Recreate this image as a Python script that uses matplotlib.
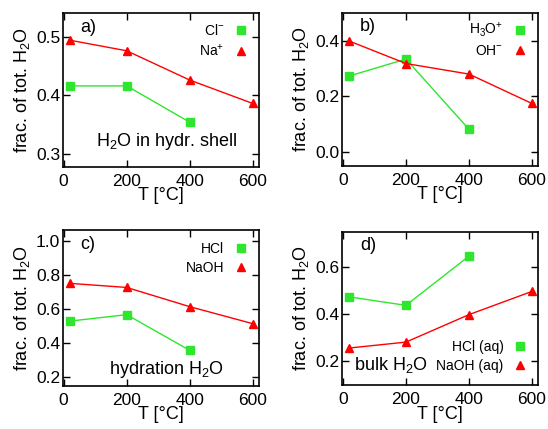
import matplotlib.pyplot as plt
from matplotlib.lines import Line2D

plt.rcParams['font.family'] = ['Liberation Sans', 'DejaVu Sans']
plt.rcParams['mathtext.default'] = 'regular'

# temperatures (deg C)
T_acid = [20, 200, 400]
T_base = [20, 200, 400, 600]

# a) H2O in hydration shell of single ions
cl = [0.416, 0.416, 0.354]
na = [0.494, 0.476, 0.426, 0.386]
# b) H3O+ / OH-
h3o = [0.273, 0.334, 0.081]
oh = [0.399, 0.318, 0.280, 0.174]
# c) hydration H2O
hcl_hyd = [0.527, 0.565, 0.355]
naoh_hyd = [0.749, 0.725, 0.612, 0.512]
# d) bulk H2O
hcl_bulk = [0.472, 0.436, 0.644]
naoh_bulk = [0.256, 0.281, 0.397, 0.495]

green = '#2ee62e'
red = '#ff0000'

fig = plt.figure(figsize=(5.48, 4.29), dpi=100)

panels = [
    # pos, green data, red data, labels, ylim, yticks, tag, note, note pos, legend anchor
    ([0.115, 0.6114, 0.3577, 0.3576], cl, na, ['Cl$^{-}$', 'Na$^{+}$'],
     (0.278, 0.54), [0.3, 0.4, 0.5], 'a)', 'H$_2$O in hydr. shell', (0.528, 0.163), (1.0, 1.01)),
    ([0.6246, 0.6138, 0.3577, 0.3559], h3o, oh, ['H$_3$O$^{+}$', 'OH$^{-}$'],
     (-0.05, 0.5), [0.0, 0.2, 0.4], 'b)', None, None, (1.0, 1.02)),
    ([0.115, 0.1009, 0.3577, 0.3630], hcl_hyd, naoh_hyd, ['HCl', 'NaOH'],
     (0.147, 1.063), [0.2, 0.4, 0.6, 0.8, 1.0], 'c)', 'hydration H$_2$O', (0.53, 0.107), (1.0, 0.995)),
    ([0.6246, 0.1026, 0.3577, 0.3573], hcl_bulk, naoh_bulk, ['HCl (aq)', 'NaOH (aq)'],
     (0.10, 0.747), [0.2, 0.4, 0.6], 'd)', 'bulk H$_2$O', (0.25, 0.13), (1.0, 0.365)),
]

for pos, g, r, labels, ylim, yticks, tag, note, note_xy, anchor in panels:
    ax = fig.add_axes(pos)
    ax.plot(T_acid, g, color=green, lw=1, marker='s', ms=6, mec=green)
    ax.plot(T_base, r, color=red, lw=1, marker='^', ms=5.5, mec=red)
    ax.set_xlim(-2, 620)
    ax.set_ylim(*ylim)
    ax.set_xticks([0, 200, 400, 600])
    ax.set_yticks(yticks)
    ax.set_yticklabels(['%.1f' % v for v in yticks])
    ax.tick_params(direction='in', length=5, width=1, top=True, right=True, labelsize=12.5)
    ax.tick_params(axis='x', pad=5)
    ax.tick_params(axis='y', pad=2)
    for s in ax.spines.values():
        s.set_linewidth(1.2)
    ax.set_xlabel('T [°C]', fontsize=13, labelpad=-1)
    ax.set_ylabel('frac. of tot. H$_2$O', fontsize=13, labelpad=3)
    ax.text(0.09, 0.91, tag, transform=ax.transAxes, fontsize=13, va='center', ha='left')
    if note:
        ax.text(note_xy[0], note_xy[1], note, transform=ax.transAxes, fontsize=13,
                va='center', ha='center')
    handles = [Line2D([], [], ls='none', marker='s', ms=6, color=green),
               Line2D([], [], ls='none', marker='^', ms=5.5, color=red)]
    ax.legend(handles, labels, loc='upper right', bbox_to_anchor=anchor, frameon=False,
              markerfirst=False, fontsize=10, handlelength=1.0, handletextpad=0.7,
              labelspacing=0.35, borderaxespad=0.4)

fig.savefig('out.png', dpi=100)
